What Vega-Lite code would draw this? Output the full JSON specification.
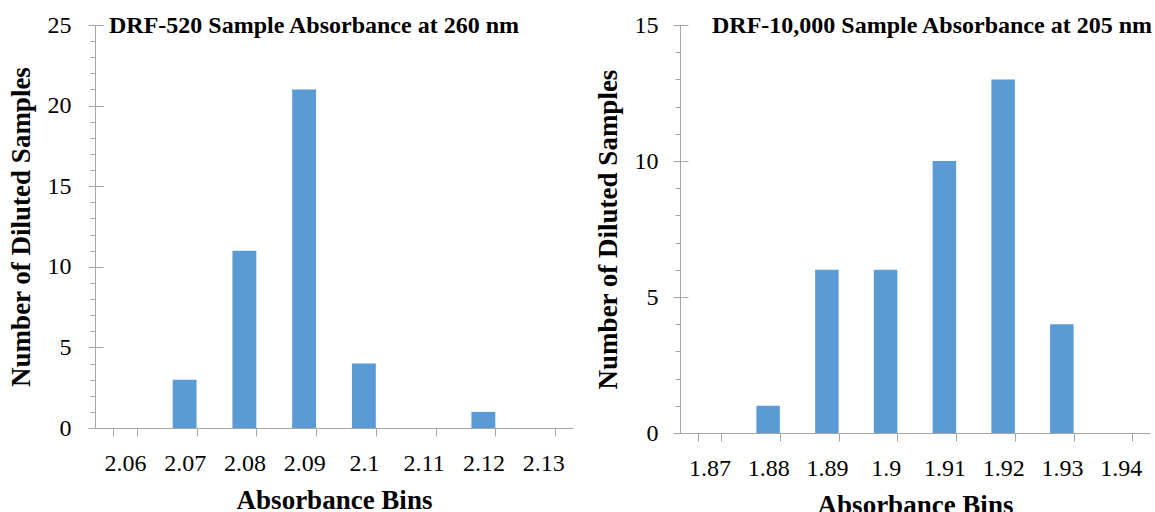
{
  "$schema": "https://vega.github.io/schema/vega-lite/v6.json",
  "background": "white",
  "padding": {"left": 7, "top": 13, "right": 0, "bottom": 0},
  "spacing": 21,
  "config": {
    "view": {"stroke": null},
    "font": "Liberation Serif",
    "axis": {
      "domainColor": "#a6a6a6",
      "tickColor": "#a6a6a6",
      "labelFont": "Liberation Serif",
      "labelFontSize": 24,
      "labelColor": "black",
      "titleFont": "Liberation Serif",
      "titleFontSize": 27,
      "titleFontWeight": "bold",
      "titleColor": "black",
      "grid": false
    }
  },
  "datasets": {
    "a": [
      {"bin": "2.06", "count": 0},
      {"bin": "2.07", "count": 3},
      {"bin": "2.08", "count": 11},
      {"bin": "2.09", "count": 21},
      {"bin": "2.1", "count": 4},
      {"bin": "2.11", "count": 0},
      {"bin": "2.12", "count": 1},
      {"bin": "2.13", "count": 0}
    ],
    "b": [
      {"bin": "1.87", "count": 0},
      {"bin": "1.88", "count": 1},
      {"bin": "1.89", "count": 6},
      {"bin": "1.9", "count": 6},
      {"bin": "1.91", "count": 10},
      {"bin": "1.92", "count": 13},
      {"bin": "1.93", "count": 4},
      {"bin": "1.94", "count": 0}
    ]
  },
  "hconcat": [
    {
      "width": 478,
      "height": 403,
      "data": {"name": "a"},
      "title": {"text": "DRF-520 Sample Absorbance at 260 nm", "anchor": "start", "frame": "group", "dx": 14, "offset": -44, "baseline": "alphabetic", "fontSize": 24, "fontWeight": "bold", "font": "Liberation Serif", "color": "black"},
      "layer": [
        {
          "mark": {"type": "bar", "color": "#5B9BD5"},
          "encoding": {
            "x": {"field": "bin", "type": "ordinal", "sort": null, "scale": {"paddingInner": 0.6, "paddingOuter": 0.3},
              "axis": {"tickBand": "extent", "tickSize": 8, "labelPadding": 15, "labelAngle": 0, "title": "Absorbance Bins", "titleY": 80, "titleBaseline": "alphabetic"}},
            "y": {"field": "count", "type": "quantitative", "scale": {"domain": [0, 25], "nice": false},
              "axis": {"orient": "left", "values": [0, 5, 10, 15, 20, 25], "tickSize": 7, "labelPadding": 17, "title": "Number of Diluted Samples", "titleX": -66, "titleBaseline": "alphabetic"}}
          }
        },
        {
          "mark": {"type": "bar", "opacity": 0},
          "encoding": {
            "x": {"field": "bin", "type": "ordinal", "sort": null, "scale": {"paddingInner": 0.6, "paddingOuter": 0.3},
              "axis": {"tickBand": "extent", "tickSize": 8, "labelPadding": 15, "labelAngle": 0, "title": "Absorbance Bins", "titleY": 80, "titleBaseline": "alphabetic"}},
            "y": {"field": "count", "type": "quantitative",
              "axis": {"orient": "left", "values": [0,1,2,3,4,5,6,7,8,9,10,11,12,13,14,15,16,17,18,19,20,21,22,23,24,25], "tickSize": 5, "labels": false, "domain": false, "title": null}}
          }
        },
        {
          "mark": {"type": "bar", "opacity": 0},
          "encoding": {
            "x": {"field": "bin", "type": "ordinal", "sort": null, "scale": {"paddingInner": 0.6, "paddingOuter": 0.3},
              "axis": {"tickBand": "extent", "tickSize": 8, "labelPadding": 15, "labelAngle": 0, "title": "Absorbance Bins", "titleY": 80, "titleBaseline": "alphabetic"}},
            "y": {"field": "count", "type": "quantitative",
              "axis": {"orient": "left", "values": [5, 10, 15, 20, 25], "tickSize": -8, "labels": false, "domain": false, "title": null}}
          }
        }
      ],
      "resolve": {"axis": {"y": "independent"}}
    },
    {
      "width": 470,
      "height": 408,
      "data": {"name": "b"},
      "title": {"text": "DRF-10,000 Sample Absorbance at 205 nm", "anchor": "start", "frame": "group", "dx": 32, "offset": -44, "baseline": "alphabetic", "fontSize": 24, "fontWeight": "bold", "font": "Liberation Serif", "color": "black"},
      "layer": [
        {
          "mark": {"type": "bar", "color": "#5B9BD5"},
          "encoding": {
            "x": {"field": "bin", "type": "ordinal", "sort": null, "scale": {"paddingInner": 0.6, "paddingOuter": 0.3},
              "axis": {"tickBand": "extent", "tickSize": 8, "labelPadding": 15, "labelAngle": 0, "title": "Absorbance Bins", "titleY": 80, "titleBaseline": "alphabetic"}},
            "y": {"field": "count", "type": "quantitative", "scale": {"domain": [0, 15], "nice": false},
              "axis": {"orient": "left", "values": [0, 5, 10, 15], "tickSize": 7, "labelPadding": 15, "title": "Number of Diluted Samples", "titleX": -64, "titleBaseline": "alphabetic"}}
          }
        },
        {
          "mark": {"type": "bar", "opacity": 0},
          "encoding": {
            "x": {"field": "bin", "type": "ordinal", "sort": null, "scale": {"paddingInner": 0.6, "paddingOuter": 0.3},
              "axis": {"tickBand": "extent", "tickSize": 8, "labelPadding": 15, "labelAngle": 0, "title": "Absorbance Bins", "titleY": 80, "titleBaseline": "alphabetic"}},
            "y": {"field": "count", "type": "quantitative",
              "axis": {"orient": "left", "values": [0,1,2,3,4,5,6,7,8,9,10,11,12,13,14,15], "tickSize": 5, "labels": false, "domain": false, "title": null}}
          }
        },
        {
          "mark": {"type": "bar", "opacity": 0},
          "encoding": {
            "x": {"field": "bin", "type": "ordinal", "sort": null, "scale": {"paddingInner": 0.6, "paddingOuter": 0.3},
              "axis": {"tickBand": "extent", "tickSize": 8, "labelPadding": 15, "labelAngle": 0, "title": "Absorbance Bins", "titleY": 80, "titleBaseline": "alphabetic"}},
            "y": {"field": "count", "type": "quantitative",
              "axis": {"orient": "left", "values": [5, 10, 15], "tickSize": -8, "labels": false, "domain": false, "title": null}}
          }
        }
      ],
      "resolve": {"axis": {"y": "independent"}}
    }
  ]
}
